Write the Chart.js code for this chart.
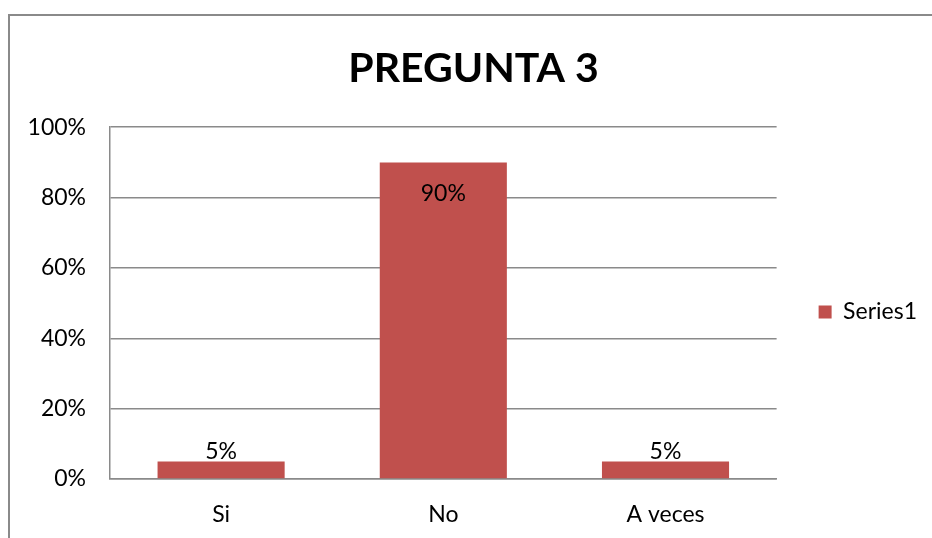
<!DOCTYPE html>
<html>
<head>
<meta charset="utf-8">
<script src="https://cdn.jsdelivr.net/npm/chart.js@4/dist/chart.umd.min.js"></script>
<style>
  html, body { margin: 0; padding: 0; background: #fff; }
  #wrap { position: relative; width: 932px; height: 538px; }
  #frame { position: absolute; left: 8px; top: 14px; right: -10px; bottom: -10px;
           border-left: 2px solid #8a8a8a; border-top: 2px solid #8a8a8a; }
  canvas { position: absolute; left: 0; top: 0; }
</style>
</head>
<body>
<div id="wrap">
  <div id="frame"></div>
  <canvas id="myChart" width="932" height="538"></canvas>
</div>
<script>
const categories = ['Si', 'No', 'A veces'];
const series1 = [5, 90, 5];
const yTicks = [0, 20, 40, 60, 80, 100];

const fontFamily = 'Lato, "Open Sans", sans-serif';

// simple data labels: above the bar, or inside the top when the bar is tall
const barLabels = {
  id: 'barLabels',
  afterDatasetsDraw(chart) {
    const ctx = chart.ctx;
    const meta = chart.getDatasetMeta(0);
    ctx.save();
    ctx.font = '23px ' + fontFamily;
    ctx.fillStyle = '#000';
    ctx.textAlign = 'center';
    meta.data.forEach((bar, i) => {
      const v = series1[i];
      if (v > 80) {
        ctx.textBaseline = 'middle';
        ctx.fillText(v + '%', bar.x, bar.y + 31);
      } else {
        ctx.textBaseline = 'bottom';
        ctx.fillText(v + '%', bar.x, bar.y + 2);
      }
    });
    ctx.restore();
  }
};

let myChart = document.getElementById('myChart').getContext('2d');

let barChart = new Chart(myChart, {
  type: 'bar',
  data: {
    labels: categories,
    datasets: [{
      label: 'Series1',
      data: series1,
      backgroundColor: '#C0504D',
      borderWidth: 0,
      barPercentage: 0.572,
      categoryPercentage: 1
    }]
  },
  options: {
    responsive: false,
    animation: false,
    layout: { padding: { left: 20, right: 5, top: 0, bottom: 0 } },
    plugins: {
      title: {
        display: true,
        text: 'PREGUNTA 3',
        color: '#000',
        font: { family: fontFamily, size: 41, weight: 'bold' },
        padding: { top: 44, bottom: 34 }
      },
      legend: {
        position: 'right',
        align: 'start',
        maxWidth: 156,
        // empty title used as a spacer so the entry sits mid-height
        title: { display: true, text: ' ', padding: { top: 122, bottom: 122 } },
        labels: {
          color: '#000',
          font: { family: fontFamily, size: 23 },
          boxWidth: 13,
          boxHeight: 13,
          padding: 42
        }
      },
      tooltip: { enabled: false }
    },
    scales: {
      y: {
        min: 0,
        max: 100,
        afterBuildTicks(scale) {
          scale.ticks = yTicks.map(v => ({ value: v }));
        },
        afterFit(scale) { scale.width = 90; },
        ticks: {
          color: '#000',
          font: { family: fontFamily, size: 23 },
          padding: 24,
          callback: v => v + '%'
        },
        grid: { color: '#8a8a8a', lineWidth: 1.5, drawTicks: false },
        border: { color: '#8a8a8a', width: 1.5 }
      },
      x: {
        afterFit(scale) { scale.height = 59; },
        ticks: {
          color: '#000',
          font: { family: fontFamily, size: 23 },
          padding: 22
        },
        grid: { display: false, drawTicks: false },
        border: { color: '#8a8a8a', width: 1.5 }
      }
    }
  },
  plugins: [barLabels]
});
</script>
</body>
</html>
